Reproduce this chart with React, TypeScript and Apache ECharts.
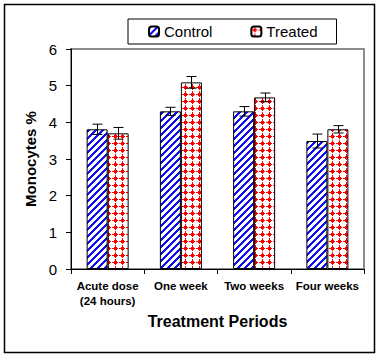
import React, { useEffect, useRef } from "react";
import * as echarts from "echarts";

const categories = ["Acute dose\n(24 hours)", "One week", "Two weeks", "Four weeks"];
const controlValues = [3.81, 4.3, 4.3, 3.49];
const treatedValues = [3.7, 5.09, 4.68, 3.81];
const controlErr = [0.14, 0.11, 0.13, 0.19];
const treatedErr = [0.16, 0.16, 0.12, 0.1];
const yTicks = { min: 0, max: 6, interval: 1 };

const BAR_W = 21;

function stripeCanvas(): HTMLCanvasElement {
  const s = 7;
  const c = document.createElement("canvas");
  c.width = s;
  c.height = s;
  const ctx = c.getContext("2d")!;
  ctx.fillStyle = "#ffffff";
  ctx.fillRect(0, 0, s, s);
  ctx.fillStyle = "#1010ee";
  for (let x = 0; x < s; x++) {
    for (let y = 0; y < s; y++) {
      if ((x + y) % s < 3) ctx.fillRect(x, y, 1, 1);
    }
  }
  return c;
}

function diamondCanvas(): HTMLCanvasElement {
  const s = 7;
  const c = document.createElement("canvas");
  c.width = s;
  c.height = s;
  const ctx = c.getContext("2d")!;
  ctx.fillStyle = "#ffffff";
  ctx.fillRect(0, 0, s, s);
  ctx.fillStyle = "#ff0000";
  for (let x = 0; x < s; x++) {
    for (let y = 0; y < s; y++) {
      const d = Math.abs(x - 3) + Math.abs(y - 3);
      if (d <= 2) ctx.fillRect(x, y, 1, 1);
    }
  }
  ctx.fillRect(0, 3, 1, 1);
  ctx.fillRect(3, 0, 1, 1);
  return c;
}

function errorSeries(values: number[], errs: number[], offset: number) {
  return {
    type: "custom",
    data: values.map((v, i) => [i, v - errs[i], v + errs[i]]),
    encode: { x: 0, y: [1, 2] },
    z: 5,
    silent: true,
    renderItem: (params: any, api: any) => {
      const i = api.value(0);
      const lo = api.coord([i, api.value(1)]);
      const hi = api.coord([i, api.value(2)]);
      const x = Math.round(lo[0] + offset) + 0.5;
      const cap = 5;
      const st = { stroke: "#000", lineWidth: 1 };
      return {
        type: "group",
        children: [
          { type: "line", shape: { x1: x, y1: lo[1], x2: x, y2: hi[1] }, style: st },
          { type: "line", shape: { x1: x - cap, y1: hi[1], x2: x + cap, y2: hi[1] }, style: st },
          { type: "line", shape: { x1: x - cap, y1: lo[1], x2: x + cap, y2: lo[1] }, style: st },
        ],
      };
    },
  };
}

export default function App() {
  const ref = useRef<HTMLDivElement>(null);
  useEffect(() => {
    if (!ref.current) return;
    const chart = echarts.init(ref.current, null, { renderer: "svg" });
    const stripe = { image: stripeCanvas(), repeat: "repeat" };
    const diamond = { image: diamondCanvas(), repeat: "repeat" };
    const font = "Arial, 'Liberation Sans', sans-serif";
    chart.setOption({
      animation: false,
      backgroundColor: "#ffffff",
      textStyle: { fontFamily: font },
      graphic: [
        {
          type: "rect",
          shape: { x: 4.5, y: 4.5, width: 370, height: 348 },
          style: { fill: "none", stroke: "#000", lineWidth: 1.5 },
          silent: true,
        },
      ],
      legend: {
        left: 128,
        top: 19,
        padding: [5, 19, 5, 20],
        itemWidth: 10,
        itemHeight: 10,
        itemGap: 38,
        borderColor: "#000",
        borderWidth: 1,
        backgroundColor: "#fff",
        textStyle: { fontSize: 15, color: "#000", fontFamily: font, padding: [0, 0, 0, 0] },
        data: ["Control", "Treated"],
      },
      grid: {
        left: 71,
        right: 15,
        top: 49,
        bottom: 89,
        show: true,
        borderColor: "#8c8c8c",
        borderWidth: 2,
        backgroundColor: "transparent",
      },
      xAxis: {
        type: "category",
        data: categories,
        axisLine: { lineStyle: { color: "#000", width: 1 } },
        axisTick: { show: true, length: 5, lineStyle: { color: "#000" }, interval: 0 },
        axisLabel: {
          interval: 0,
          margin: 9,
          fontSize: 11.5,
          fontWeight: "bold",
          color: "#000",
          lineHeight: 15,
          fontFamily: font,
        },
        name: "Treatment Periods",
        nameLocation: "middle",
        nameGap: 44,
        nameTextStyle: { fontSize: 16, fontWeight: "bold", color: "#000", fontFamily: font },
      },
      yAxis: {
        type: "value",
        min: yTicks.min,
        max: yTicks.max,
        interval: yTicks.interval,
        splitLine: { show: false },
        axisLine: { show: true, lineStyle: { color: "#000", width: 1 } },
        axisTick: { show: true, length: 5, lineStyle: { color: "#000" } },
        axisLabel: { margin: 14, fontSize: 15, color: "#000", fontFamily: font },
        name: "Monocytes %",
        nameLocation: "middle",
        nameGap: 33,
        nameTextStyle: { fontSize: 15, fontWeight: "bold", color: "#000", fontFamily: font },
      },
      series: [
        {
          name: "Control",
          type: "bar",
          data: controlValues,
          barWidth: BAR_W,
          barGap: "0%",
          itemStyle: { color: stripe, borderColor: "#000", borderWidth: 1 },
        },
        {
          name: "Treated",
          type: "bar",
          data: treatedValues,
          barWidth: BAR_W,
          barGap: "0%",
          itemStyle: { color: diamond, borderColor: "#000", borderWidth: 1 },
        },
        errorSeries(controlValues, controlErr, -BAR_W / 2),
        errorSeries(treatedValues, treatedErr, BAR_W / 2),
      ],
    });
    return () => chart.dispose();
  }, []);
  return (
    <div
      ref={ref}
      style={{ position: "fixed", left: 0, top: 0, width: 379, height: 358 }}
    />
  );
}
